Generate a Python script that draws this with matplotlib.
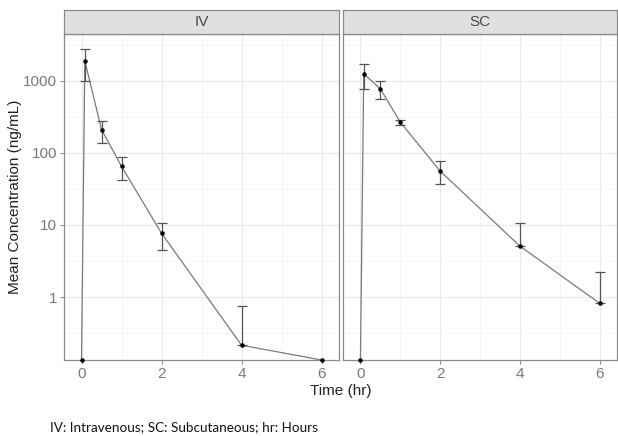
import numpy as np
import matplotlib
matplotlib.use("Agg")
import matplotlib.pyplot as plt
from matplotlib.ticker import FixedLocator, NullFormatter

plt.rcParams["font.family"] = ["Liberation Sans", "DejaVu Sans"]

# values (ng/mL); 0 = below limit, drawn at panel floor
time = np.array([0, 0.083, 0.5, 1, 2, 4, 6])
panels = ["IV", "SC"]
iv_mean = np.array([0, 1900, 211, 65, 7.7, 0.215, 0])
iv_upper = np.array([np.nan, 2780, 281, 89, 10.8, 0.74, np.nan])
iv_lower = np.array([np.nan, 1010, 136, 42.5, 4.5, 0.215, np.nan])
sc_mean = np.array([0, 1250, 775, 267, 56, 5.1, 0.82])
sc_upper = np.array([np.nan, 1720, 980, 290, 77, 10.5, 2.2])
sc_lower = np.array([np.nan, 775, 560, 247, 37, 5.1, 0.82])
x_ticks = [0, 2, 4, 6]
y_ticks = [1, 10, 100, 1000]
y_labels = ["1", "10", "100", "1000"]

series = {"IV": (iv_mean, iv_upper, iv_lower), "SC": (sc_mean, sc_upper, sc_lower)}

cap_w = 0.25
border = "#8a8a8a"
grid_c = "#ebebeb"

# ggplot-like limits: 5% expansion (log space for y)
pos = np.concatenate([iv_mean[iv_mean > 0], sc_mean[sc_mean > 0]])
hi = np.nanmax(np.concatenate([iv_upper, sc_upper]))
lo_log, hi_log = np.log10(pos.min()), np.log10(hi)
pad = 0.05 * (hi_log - lo_log)
ylo, yhi = 10 ** (lo_log - pad), 10 ** (hi_log + pad)
x0, x1 = time.min() - cap_w / 2, time.max() + cap_w / 2
xpad = 0.05 * (x1 - x0)

fig = plt.figure(figsize=(6.18, 4.36), dpi=100)
W, H = 618, 436
boxes = [(64, 339), (343, 617)]
top, bottom, strip_top = 34, 360, 10

for i, name in enumerate(panels):
    l, r = boxes[i]
    ax = fig.add_axes([l / W, 1 - bottom / H, (r - l) / W, (bottom - top) / H])
    mean, upper, lower = series[name]
    y = np.where(mean > 0, mean, ylo)
    ax.plot(time, y, color="#7a7a7a", lw=0.9, zorder=3, clip_on=False)
    ok = ~np.isnan(upper)
    ax.vlines(time[ok], lower[ok], upper[ok], color="#555555", lw=0.9, zorder=4)
    ax.hlines(upper[ok], time[ok] - cap_w / 2, time[ok] + cap_w / 2, color="#555555", lw=0.9, zorder=4)
    ax.hlines(lower[ok], time[ok] - cap_w / 2, time[ok] + cap_w / 2, color="#555555", lw=0.9, zorder=4)
    ax.scatter(time, y, s=5, color="black", zorder=5, clip_on=False)

    ax.set_yscale("log")
    ax.set_ylim(ylo, yhi)
    ax.set_xlim(x0 - xpad, x1 + xpad)
    ax.yaxis.set_major_locator(FixedLocator(y_ticks))
    ax.yaxis.set_minor_locator(FixedLocator([10 ** (k + 0.5) for k in range(-1, 4)]))
    ax.yaxis.set_minor_formatter(NullFormatter())
    ax.xaxis.set_major_locator(FixedLocator(x_ticks))
    ax.xaxis.set_minor_locator(FixedLocator([1, 3, 5]))
    ax.grid(True, which="major", color=grid_c, lw=0.9)
    ax.grid(True, which="minor", color="#f4f4f4", lw=0.6)
    ax.set_axisbelow(True)
    ax.tick_params(which="minor", length=0)
    ax.tick_params(which="major", length=3, width=0.7, color=border, labelcolor="#7a7a7a",
                   labelsize=11, pad=2)
    if i == 0:
        ax.set_yticklabels(y_labels)
    else:
        ax.tick_params(axis="y", labelleft=False, length=0)
    for s in ax.spines.values():
        s.set_color(border)
        s.set_linewidth(0.9)

    st = fig.add_axes([l / W, 1 - top / H, (r - l) / W, (top - strip_top) / H])
    st.set_facecolor("#e0e0e0")
    st.set_xticks([])
    st.set_yticks([])
    for s in st.spines.values():
        s.set_color(border)
        s.set_linewidth(0.9)
    st.text(0.5, 0.5, name, ha="center", va="center", fontsize=11, color="#4a4a4a",
            transform=st.transAxes)

fig.text(340.5 / W, 1 - 391 / H, "Time (hr)", ha="center", va="center", fontsize=11, color="#222222")
fig.text(15 / W, 1 - 197 / H, "Mean Concentration (ng/mL)", ha="center", va="center",
         rotation=90, fontsize=11, color="#222222")
fig.text(50 / W, 1 - 427 / H, "IV: Intravenous; SC: Subcutaneous; hr: Hours", ha="left", va="center",
         fontsize=9.7, family="Lato", color="#111111")

fig.savefig("out.png", dpi=100)
